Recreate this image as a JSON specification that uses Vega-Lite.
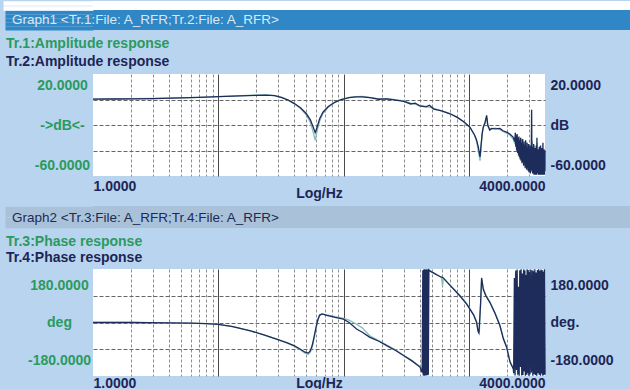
{
"$schema": "https://vega.github.io/schema/vega-lite/v6.json",
"background": "#b8d4ee",
"padding": 0,
"spacing": 6,
"config": {"view": {"stroke": null}, "font": "Liberation Sans"},
"datasets": {
"amp": [
{"t":"Tr.1","f":1,"v":0.5},{"t":"Tr.1","f":1.5,"v":0.5},{"t":"Tr.1","f":2,"v":0.6},{"t":"Tr.1","f":3,"v":0.8},{"t":"Tr.1","f":5,"v":1.2},{"t":"Tr.1","f":7,"v":1.7},{"t":"Tr.1","f":10,"v":2.3},{"t":"Tr.1","f":15,"v":3.0},{"t":"Tr.1","f":20,"v":3.4},{"t":"Tr.1","f":24,"v":3.6},{"t":"Tr.1","f":28,"v":3.1},{"t":"Tr.1","f":32,"v":1.6},{"t":"Tr.1","f":36,"v":-0.6},{"t":"Tr.1","f":40,"v":-3.2},{"t":"Tr.1","f":45,"v":-7},{"t":"Tr.1","f":50,"v":-12},{"t":"Tr.1","f":54,"v":-18},{"t":"Tr.1","f":57,"v":-26},{"t":"Tr.1","f":59,"v":-32},{"t":"Tr.1","f":61,"v":-25},{"t":"Tr.1","f":64,"v":-17},{"t":"Tr.1","f":68,"v":-11},{"t":"Tr.1","f":75,"v":-6},{"t":"Tr.1","f":85,"v":-2.2},{"t":"Tr.1","f":95,"v":0},{"t":"Tr.1","f":110,"v":1.6},{"t":"Tr.1","f":125,"v":2.3},{"t":"Tr.1","f":140,"v":2.4},{"t":"Tr.1","f":160,"v":1.6},{"t":"Tr.1","f":190,"v":0.5},{"t":"Tr.1","f":220,"v":0.7},{"t":"Tr.1","f":250,"v":0.1},{"t":"Tr.1","f":300,"v":-1.0},{"t":"Tr.1","f":340,"v":-2.8},{"t":"Tr.1","f":370,"v":-3.8},{"t":"Tr.1","f":400,"v":-4.6},{"t":"Tr.1","f":450,"v":-5.5},{"t":"Tr.1","f":480,"v":-6},{"t":"Tr.1","f":520,"v":-7},{"t":"Tr.1","f":600,"v":-9},{"t":"Tr.1","f":700,"v":-11},{"t":"Tr.1","f":800,"v":-14},{"t":"Tr.1","f":900,"v":-17.5},{"t":"Tr.1","f":1010,"v":-22},{"t":"Tr.1","f":1100,"v":-28},{"t":"Tr.1","f":1141,"v":-33},{"t":"Tr.1","f":1180,"v":-41},{"t":"Tr.1","f":1214,"v":-48},{"t":"Tr.1","f":1240,"v":-36},{"t":"Tr.1","f":1265,"v":-27},{"t":"Tr.1","f":1289,"v":-22},{"t":"Tr.1","f":1330,"v":-19},{"t":"Tr.1","f":1371,"v":-14},{"t":"Tr.1","f":1400,"v":-21},{"t":"Tr.1","f":1450,"v":-23},{"t":"Tr.1","f":1503,"v":-23},{"t":"Tr.1","f":1600,"v":-22.5},{"t":"Tr.1","f":1749,"v":-23.5},{"t":"Tr.1","f":1850,"v":-25},{"t":"Tr.1","f":1976,"v":-26.5},{"t":"Tr.1","f":2100,"v":-28},{"t":"Tr.1","f":2228,"v":-31},
{"t":"Tr.1","f":2300,"v":-35},{"t":"Tr.1","f":2340,"v":-27},{"t":"Tr.1","f":2370,"v":-40},{"t":"Tr.1","f":2410,"v":-29},{"t":"Tr.1","f":2440,"v":-42},{"t":"Tr.1","f":2475,"v":-33},{"t":"Tr.1","f":2510,"v":-46},{"t":"Tr.1","f":2545,"v":-30},{"t":"Tr.1","f":2580,"v":-45},{"t":"Tr.1","f":2615,"v":-34},{"t":"Tr.1","f":2650,"v":-49},{"t":"Tr.1","f":2685,"v":-31},{"t":"Tr.1","f":2720,"v":-50},{"t":"Tr.1","f":2755,"v":-36},{"t":"Tr.1","f":2790,"v":-52},{"t":"Tr.1","f":2825,"v":-33},{"t":"Tr.1","f":2860,"v":-53},{"t":"Tr.1","f":2895,"v":-38},{"t":"Tr.1","f":2930,"v":-55},{"t":"Tr.1","f":2965,"v":-35},{"t":"Tr.1","f":3000,"v":-56},{"t":"Tr.1","f":3035,"v":-40},{"t":"Tr.1","f":3070,"v":-54},{"t":"Tr.1","f":3105,"v":-37},{"t":"Tr.1","f":3140,"v":-57},{"t":"Tr.1","f":3175,"v":-33},{"t":"Tr.1","f":3210,"v":-55},{"t":"Tr.1","f":3245,"v":-39},{"t":"Tr.1","f":3280,"v":-58},{"t":"Tr.1","f":3315,"v":-36},{"t":"Tr.1","f":3350,"v":-56},{"t":"Tr.1","f":3385,"v":-41},{"t":"Tr.1","f":3420,"v":-58},{"t":"Tr.1","f":3455,"v":-34},{"t":"Tr.1","f":3490,"v":-55},{"t":"Tr.1","f":3525,"v":-42},{"t":"Tr.1","f":3560,"v":-59},{"t":"Tr.1","f":3595,"v":-37},{"t":"Tr.1","f":3630,"v":-57},{"t":"Tr.1","f":3665,"v":-43},{"t":"Tr.1","f":3700,"v":-59},{"t":"Tr.1","f":3735,"v":-38},{"t":"Tr.1","f":3770,"v":-56},{"t":"Tr.1","f":3805,"v":-44},{"t":"Tr.1","f":3840,"v":-59},{"t":"Tr.1","f":3875,"v":-40},{"t":"Tr.1","f":3910,"v":-58},{"t":"Tr.1","f":3945,"v":-45},{"t":"Tr.1","f":3980,"v":-57},{"t":"Tr.1","f":4000,"v":-49},
{"t":"Tr.2","f":1,"v":0.3},{"t":"Tr.2","f":1.5,"v":0.4},{"t":"Tr.2","f":2,"v":0.5},{"t":"Tr.2","f":3,"v":0.7},{"t":"Tr.2","f":5,"v":1.2},{"t":"Tr.2","f":7,"v":1.6},{"t":"Tr.2","f":10,"v":2.2},{"t":"Tr.2","f":15,"v":2.9},{"t":"Tr.2","f":20,"v":3.3},{"t":"Tr.2","f":24,"v":3.5},{"t":"Tr.2","f":28,"v":3.0},{"t":"Tr.2","f":32,"v":1.5},{"t":"Tr.2","f":36,"v":-0.5},{"t":"Tr.2","f":40,"v":-3},{"t":"Tr.2","f":45,"v":-6.5},{"t":"Tr.2","f":50,"v":-11},{"t":"Tr.2","f":54,"v":-16},{"t":"Tr.2","f":57,"v":-22},{"t":"Tr.2","f":59,"v":-26},{"t":"Tr.2","f":61,"v":-22},{"t":"Tr.2","f":64,"v":-15},{"t":"Tr.2","f":68,"v":-10},{"t":"Tr.2","f":75,"v":-5.5},{"t":"Tr.2","f":85,"v":-2},{"t":"Tr.2","f":95,"v":0},{"t":"Tr.2","f":110,"v":1.4},{"t":"Tr.2","f":125,"v":2},{"t":"Tr.2","f":140,"v":2.1},{"t":"Tr.2","f":160,"v":1.4},{"t":"Tr.2","f":190,"v":0.2},{"t":"Tr.2","f":220,"v":0.5},{"t":"Tr.2","f":250,"v":-0.3},{"t":"Tr.2","f":300,"v":-1.5},{"t":"Tr.2","f":340,"v":-3.5},{"t":"Tr.2","f":370,"v":-2.8},{"t":"Tr.2","f":400,"v":-5},{"t":"Tr.2","f":450,"v":-5.8},{"t":"Tr.2","f":480,"v":-4.5},{"t":"Tr.2","f":520,"v":-7.5},{"t":"Tr.2","f":600,"v":-9},{"t":"Tr.2","f":700,"v":-11.2},{"t":"Tr.2","f":800,"v":-14},{"t":"Tr.2","f":900,"v":-17.5},{"t":"Tr.2","f":1010,"v":-21.7},{"t":"Tr.2","f":1100,"v":-28},{"t":"Tr.2","f":1141,"v":-32},{"t":"Tr.2","f":1180,"v":-38},{"t":"Tr.2","f":1214,"v":-45},{"t":"Tr.2","f":1240,"v":-35},{"t":"Tr.2","f":1265,"v":-26},{"t":"Tr.2","f":1289,"v":-21.7},{"t":"Tr.2","f":1330,"v":-18},{"t":"Tr.2","f":1371,"v":-12.5},{"t":"Tr.2","f":1400,"v":-20},{"t":"Tr.2","f":1450,"v":-24},{"t":"Tr.2","f":1503,"v":-22.7},{"t":"Tr.2","f":1600,"v":-23},{"t":"Tr.2","f":1749,"v":-22.7},{"t":"Tr.2","f":1850,"v":-24.5},{"t":"Tr.2","f":1976,"v":-25.6},{"t":"Tr.2","f":2100,"v":-27},{"t":"Tr.2","f":2228,"v":-29.5},
{"t":"Tr.2","f":2300,"v":-33},{"t":"Tr.2","f":2320,"v":-26},{"t":"Tr.2","f":2340,"v":-37},{"t":"Tr.2","f":2360,"v":-28},{"t":"Tr.2","f":2380,"v":-40},{"t":"Tr.2","f":2400,"v":-27},{"t":"Tr.2","f":2420,"v":-42},{"t":"Tr.2","f":2440,"v":-30},{"t":"Tr.2","f":2460,"v":-44},{"t":"Tr.2","f":2480,"v":-29},{"t":"Tr.2","f":2500,"v":-45},{"t":"Tr.2","f":2520,"v":-32},{"t":"Tr.2","f":2540,"v":-47},{"t":"Tr.2","f":2560,"v":-30},{"t":"Tr.2","f":2580,"v":-48},{"t":"Tr.2","f":2600,"v":-34},{"t":"Tr.2","f":2620,"v":-50},{"t":"Tr.2","f":2640,"v":-31},{"t":"Tr.2","f":2660,"v":-49},{"t":"Tr.2","f":2680,"v":-35},{"t":"Tr.2","f":2700,"v":-52},{"t":"Tr.2","f":2720,"v":-33},{"t":"Tr.2","f":2740,"v":-51},{"t":"Tr.2","f":2760,"v":-36},{"t":"Tr.2","f":2780,"v":-54},{"t":"Tr.2","f":2800,"v":-32},{"t":"Tr.2","f":2820,"v":-53},{"t":"Tr.2","f":2840,"v":-37},{"t":"Tr.2","f":2860,"v":-55},{"t":"Tr.2","f":2880,"v":-34},{"t":"Tr.2","f":2900,"v":-54},{"t":"Tr.2","f":2920,"v":-38},{"t":"Tr.2","f":2940,"v":-56},{"t":"Tr.2","f":2960,"v":-35},{"t":"Tr.2","f":2980,"v":-57},{"t":"Tr.2","f":3000,"v":-39},{"t":"Tr.2","f":3020,"v":-55},{"t":"Tr.2","f":3040,"v":-36},{"t":"Tr.2","f":3060,"v":-58},{"t":"Tr.2","f":3080,"v":-40},{"t":"Tr.2","f":3100,"v":-56},{"t":"Tr.2","f":3130,"v":-8},{"t":"Tr.2","f":3150,"v":-55},{"t":"Tr.2","f":3170,"v":-37},{"t":"Tr.2","f":3190,"v":-58},{"t":"Tr.2","f":3210,"v":-41},{"t":"Tr.2","f":3230,"v":-57},{"t":"Tr.2","f":3250,"v":-35},{"t":"Tr.2","f":3270,"v":-59},{"t":"Tr.2","f":3290,"v":-42},{"t":"Tr.2","f":3310,"v":-56},{"t":"Tr.2","f":3330,"v":-38},{"t":"Tr.2","f":3350,"v":-59},{"t":"Tr.2","f":3370,"v":-43},{"t":"Tr.2","f":3390,"v":-57},{"t":"Tr.2","f":3410,"v":-36},{"t":"Tr.2","f":3430,"v":-59},{"t":"Tr.2","f":3450,"v":-30},{"t":"Tr.2","f":3470,"v":-58},{"t":"Tr.2","f":3490,"v":-44},{"t":"Tr.2","f":3510,"v":-56},{"t":"Tr.2","f":3530,"v":-39},{"t":"Tr.2","f":3550,"v":-59},{"t":"Tr.2","f":3570,"v":-41},{"t":"Tr.2","f":3590,"v":-57},{"t":"Tr.2","f":3610,"v":-37},{"t":"Tr.2","f":3630,"v":-59},{"t":"Tr.2","f":3650,"v":-45},{"t":"Tr.2","f":3670,"v":-58},{"t":"Tr.2","f":3690,"v":-36},{"t":"Tr.2","f":3710,"v":-59},{"t":"Tr.2","f":3730,"v":-42},{"t":"Tr.2","f":3750,"v":-57},{"t":"Tr.2","f":3770,"v":-38},{"t":"Tr.2","f":3790,"v":-59},{"t":"Tr.2","f":3810,"v":-46},{"t":"Tr.2","f":3830,"v":-58},{"t":"Tr.2","f":3850,"v":-34},{"t":"Tr.2","f":3870,"v":-59},{"t":"Tr.2","f":3890,"v":-43},{"t":"Tr.2","f":3910,"v":-57},{"t":"Tr.2","f":3930,"v":-39},{"t":"Tr.2","f":3950,"v":-59},{"t":"Tr.2","f":3970,"v":-44},{"t":"Tr.2","f":3990,"v":-56},{"t":"Tr.2","f":4000,"v":-40}
],
"phase": [
{"t":"Tr.3","f":1,"v":0},{"t":"Tr.3","f":2,"v":0},{"t":"Tr.3","f":4,"v":-1},{"t":"Tr.3","f":6,"v":-2},{"t":"Tr.3","f":8,"v":-4},{"t":"Tr.3","f":10,"v":-6},{"t":"Tr.3","f":13,"v":-14},{"t":"Tr.3","f":18,"v":-28},{"t":"Tr.3","f":23,"v":-42},{"t":"Tr.3","f":29,"v":-56},{"t":"Tr.3","f":35,"v":-69},{"t":"Tr.3","f":40,"v":-80},{"t":"Tr.3","f":45,"v":-92},{"t":"Tr.3","f":49,"v":-103},{"t":"Tr.3","f":52,"v":-107},{"t":"Tr.3","f":54,"v":-100},{"t":"Tr.3","f":56,"v":-82},{"t":"Tr.3","f":58,"v":-50},{"t":"Tr.3","f":60,"v":-18},{"t":"Tr.3","f":62,"v":8},{"t":"Tr.3","f":64,"v":24},{"t":"Tr.3","f":67,"v":28},{"t":"Tr.3","f":73,"v":26},{"t":"Tr.3","f":85,"v":20},{"t":"Tr.3","f":99,"v":14},{"t":"Tr.3","f":110,"v":8},{"t":"Tr.3","f":126,"v":-6},{"t":"Tr.3","f":140,"v":-18},{"t":"Tr.3","f":161,"v":-45},{"t":"Tr.3","f":190,"v":-62},{"t":"Tr.3","f":219,"v":-76},{"t":"Tr.3","f":260,"v":-93},{"t":"Tr.3","f":298,"v":-110},{"t":"Tr.3","f":350,"v":-128},{"t":"Tr.3","f":403,"v":-148},{"t":"Tr.3","f":440,"v":-163},{"t":"Tr.3","f":465,"v":-176},{"t":"Tr.3","f":472,"v":178},{"t":"Tr.3","f":490,"v":174},{"t":"Tr.3","f":515,"v":168},{"t":"Tr.3","f":560,"v":160},{"t":"Tr.3","f":600,"v":150},{"t":"Tr.3","f":610,"v":123},{"t":"Tr.3","f":620,"v":148},{"t":"Tr.3","f":700,"v":126},{"t":"Tr.3","f":841,"v":91},{"t":"Tr.3","f":950,"v":64},{"t":"Tr.3","f":1011,"v":46},{"t":"Tr.3","f":1080,"v":27},{"t":"Tr.3","f":1141,"v":3},{"t":"Tr.3","f":1170,"v":-25},{"t":"Tr.3","f":1200,"v":-30},{"t":"Tr.3","f":1225,"v":55},{"t":"Tr.3","f":1250,"v":145},{"t":"Tr.3","f":1290,"v":115},{"t":"Tr.3","f":1350,"v":92},{"t":"Tr.3","f":1456,"v":70},{"t":"Tr.3","f":1600,"v":33},{"t":"Tr.3","f":1750,"v":-8},{"t":"Tr.3","f":1862,"v":-52},{"t":"Tr.3","f":1977,"v":-80},{"t":"Tr.3","f":2104,"v":-130},{"t":"Tr.3","f":2238,"v":-154},
{"t":"Tr.3","f":2260,"v":-175},{"t":"Tr.3","f":2330,"v":170},{"t":"Tr.3","f":2420,"v":-178},{"t":"Tr.3","f":2520,"v":175},{"t":"Tr.3","f":2640,"v":-170},{"t":"Tr.3","f":2760,"v":178},{"t":"Tr.3","f":2900,"v":-176},{"t":"Tr.3","f":3050,"v":174},{"t":"Tr.3","f":3150,"v":-120},{"t":"Tr.3","f":3250,"v":178},{"t":"Tr.3","f":3400,"v":-178},{"t":"Tr.3","f":3550,"v":176},{"t":"Tr.3","f":3700,"v":-177},{"t":"Tr.3","f":3850,"v":175},{"t":"Tr.3","f":4000,"v":-176},
{"t":"Tr.4","f":1,"v":0},{"t":"Tr.4","f":2,"v":0},{"t":"Tr.4","f":4,"v":-1},{"t":"Tr.4","f":6,"v":-2},{"t":"Tr.4","f":8,"v":-4},{"t":"Tr.4","f":10,"v":-6},{"t":"Tr.4","f":13,"v":-14},{"t":"Tr.4","f":18,"v":-28},{"t":"Tr.4","f":23,"v":-42},{"t":"Tr.4","f":29,"v":-56},{"t":"Tr.4","f":35,"v":-68},{"t":"Tr.4","f":40,"v":-78},{"t":"Tr.4","f":45,"v":-90},{"t":"Tr.4","f":49,"v":-100},{"t":"Tr.4","f":52,"v":-103},{"t":"Tr.4","f":54,"v":-95},{"t":"Tr.4","f":56,"v":-75},{"t":"Tr.4","f":58,"v":-45},{"t":"Tr.4","f":60,"v":-15},{"t":"Tr.4","f":62,"v":10},{"t":"Tr.4","f":64,"v":25},{"t":"Tr.4","f":67,"v":29},{"t":"Tr.4","f":73,"v":24},{"t":"Tr.4","f":85,"v":17},{"t":"Tr.4","f":99,"v":11},{"t":"Tr.4","f":110,"v":0},{"t":"Tr.4","f":126,"v":-22},{"t":"Tr.4","f":140,"v":-33},{"t":"Tr.4","f":161,"v":-50},{"t":"Tr.4","f":190,"v":-63},{"t":"Tr.4","f":219,"v":-78},{"t":"Tr.4","f":260,"v":-95},{"t":"Tr.4","f":298,"v":-111},{"t":"Tr.4","f":350,"v":-130},{"t":"Tr.4","f":403,"v":-150},{"t":"Tr.4","f":420,"v":-168},{"t":"Tr.4","f":425,"v":176},{"t":"Tr.4","f":428,"v":-178},{"t":"Tr.4","f":432,"v":178},{"t":"Tr.4","f":436,"v":-179},{"t":"Tr.4","f":440,"v":179},{"t":"Tr.4","f":444,"v":-178},{"t":"Tr.4","f":448,"v":178},{"t":"Tr.4","f":452,"v":-178},{"t":"Tr.4","f":456,"v":179},{"t":"Tr.4","f":460,"v":-177},{"t":"Tr.4","f":465,"v":178},{"t":"Tr.4","f":470,"v":-176},{"t":"Tr.4","f":475,"v":177},{"t":"Tr.4","f":490,"v":172},{"t":"Tr.4","f":515,"v":167},{"t":"Tr.4","f":560,"v":158},{"t":"Tr.4","f":620,"v":150},{"t":"Tr.4","f":700,"v":125},{"t":"Tr.4","f":841,"v":89},{"t":"Tr.4","f":950,"v":62},{"t":"Tr.4","f":1011,"v":44},{"t":"Tr.4","f":1080,"v":25},{"t":"Tr.4","f":1141,"v":0},{"t":"Tr.4","f":1170,"v":-30},{"t":"Tr.4","f":1190,"v":-36},{"t":"Tr.4","f":1225,"v":60},{"t":"Tr.4","f":1250,"v":150},{"t":"Tr.4","f":1290,"v":111},{"t":"Tr.4","f":1350,"v":90},{"t":"Tr.4","f":1456,"v":67},{"t":"Tr.4","f":1600,"v":30},{"t":"Tr.4","f":1750,"v":-11},{"t":"Tr.4","f":1862,"v":-55},{"t":"Tr.4","f":1977,"v":-83},{"t":"Tr.4","f":2104,"v":-133},{"t":"Tr.4","f":2238,"v":-156},
{"t":"Tr.4","f":2250,"v":-170},{"t":"Tr.4","f":2280,"v":150},{"t":"Tr.4","f":2310,"v":-178},{"t":"Tr.4","f":2340,"v":175},{"t":"Tr.4","f":2370,"v":-160},{"t":"Tr.4","f":2400,"v":178},{"t":"Tr.4","f":2430,"v":-175},{"t":"Tr.4","f":2460,"v":120},{"t":"Tr.4","f":2490,"v":-179},{"t":"Tr.4","f":2520,"v":176},{"t":"Tr.4","f":2550,"v":-150},{"t":"Tr.4","f":2580,"v":179},{"t":"Tr.4","f":2610,"v":-178},{"t":"Tr.4","f":2640,"v":165},{"t":"Tr.4","f":2670,"v":-177},{"t":"Tr.4","f":2700,"v":178},{"t":"Tr.4","f":2730,"v":-165},{"t":"Tr.4","f":2760,"v":175},{"t":"Tr.4","f":2790,"v":-179},{"t":"Tr.4","f":2820,"v":160},{"t":"Tr.4","f":2850,"v":-176},{"t":"Tr.4","f":2880,"v":179},{"t":"Tr.4","f":2910,"v":-170},{"t":"Tr.4","f":2940,"v":177},{"t":"Tr.4","f":2970,"v":-179},{"t":"Tr.4","f":3000,"v":170},{"t":"Tr.4","f":3040,"v":-175},{"t":"Tr.4","f":3080,"v":178},{"t":"Tr.4","f":3120,"v":-168},{"t":"Tr.4","f":3160,"v":176},{"t":"Tr.4","f":3200,"v":-179},{"t":"Tr.4","f":3240,"v":172},{"t":"Tr.4","f":3280,"v":-174},{"t":"Tr.4","f":3320,"v":179},{"t":"Tr.4","f":3360,"v":-177},{"t":"Tr.4","f":3400,"v":168},{"t":"Tr.4","f":3440,"v":-179},{"t":"Tr.4","f":3480,"v":177},{"t":"Tr.4","f":3520,"v":-171},{"t":"Tr.4","f":3560,"v":179},{"t":"Tr.4","f":3600,"v":-176},{"t":"Tr.4","f":3640,"v":174},{"t":"Tr.4","f":3680,"v":-179},{"t":"Tr.4","f":3720,"v":178},{"t":"Tr.4","f":3760,"v":-172},{"t":"Tr.4","f":3800,"v":176},{"t":"Tr.4","f":3840,"v":-179},{"t":"Tr.4","f":3880,"v":171},{"t":"Tr.4","f":3920,"v":-177},{"t":"Tr.4","f":3960,"v":179},{"t":"Tr.4","f":4000,"v":-175}
]
},
"vconcat": [
{
"width": 537, "height": 29,
"view": {"stroke": null, "fill": {"gradient": "linear", "x1": 0, "y1": 0, "x2": 0, "y2": 1, "stops": [{"offset": 0, "color": "#ffffff"}, {"offset": 0.31, "color": "#ffffff"}, {"offset": 0.31, "color": "#2f87c5"}, {"offset": 1, "color": "#2f87c5"}]}},
"title": {"text": "Graph1 <Tr.1:File: A_RFR;Tr.2:File: A_RFR>", "anchor": "start", "frame": "group", "orient": "top", "offset": -26, "dx": -81, "fontSize": 13.5, "fontWeight": "normal", "color": "#dbe8f4"},
"data": {"values": [{}]},
"mark": {"type": "point", "opacity": 0},
"encoding": {"y": {"datum": 10, "type": "quantitative", "scale": {"domain": [0, 29], "nice": false, "zero": false},
  "axis": {"orient": "left", "values": [2, 6, 10, 14, 18, 22.25, 26.75], "title": null, "labels": false, "domain": false, "grid": false,
   "tickSize": {"condition": {"test": "datum.value > 20", "value": 90}, "value": 88},
   "tickColor": {"condition": {"test": "datum.value > 20", "value": "#ffffff"}, "value": "#2f87c5"},
   "tickWidth": {"condition": {"test": "datum.value > 20", "value": 4.6}, "value": 4.1}}}}
},
{
"width": 452, "height": 102,
"view": {"fill": "#ffffff", "stroke": null},
"title": {"text": "Tr.1:Amplitude response", "subtitle": "Tr.2:Amplitude response", "anchor": "start", "frame": "bounds", "dx": 6, "fontSize": 14, "fontWeight": "bold", "color": "#2a9a5e", "subtitleFontSize": 14, "subtitleFontWeight": "bold", "subtitleColor": "#1d2557", "subtitlePadding": 4, "offset": 5},
"data": {"name": "amp"},
"encoding": {"x": {"field": "f", "type": "quantitative", "scale": {"type": "log", "domain": [1, 4000], "nice": false},
  "axis": {"values": [1,2,3,4,5,6,7,8,9,10,20,30,40,50,60,70,80,90,100,200,300,400,500,600,700,800,900,1000,2000,3000,4000],
    "title": "Log/Hz", "titleFontSize": 14, "titleFontWeight": "bold", "titleColor": "#1d2557", "titlePadding": -14,
    "labelExpr": "datum.value == 1 ? '1.0000' : datum.value == 4000 ? '4000.0000' : ''",
    "labelFlush": true, "labelOverlap": false, "labelFontSize": 14, "labelFontWeight": "bold", "labelColor": "#1d2557", "labelPadding": 3,
    "ticks": false, "domain": false, "grid": true, "minExtent": 24,
    "gridColor": {"condition": {"test": "datum.value == 10 || datum.value == 100 || datum.value == 1000", "value": "#4a4a4a"}, "value": "#8c8c8c"},
    "gridDash": {"condition": {"test": "datum.value == 10 || datum.value == 100 || datum.value == 1000", "value": []}, "value": [3, 2]},
    "gridOpacity": {"condition": {"test": "datum.value == 1 || datum.value == 4000", "value": 0}, "value": 1}}}},
"layer": [
{"transform": [{"filter": "datum.t == 'Tr.1'"}], "mark": {"type": "line", "color": "#86bdb9", "strokeWidth": 1.3},
 "encoding": {"y": {"field": "v", "type": "quantitative", "scale": {"domain": [-60, 20], "nice": false, "zero": false},
  "axis": {"orient": "left", "title": null, "values": [20, 0, -20, -40, -60],
   "labelExpr": "datum.value == 20 ? '20.0000' : datum.value == -20 ? '->dB<-' : datum.value == -60 ? '-60.0000' : ''",
   "labelFlush": true, "labelFlushOffset": -4, "labelOverlap": false, "labelAlign": "center", "labelPadding": 31,
   "labelFontSize": 14, "labelFontWeight": "bold", "labelColor": "#2a9a5e",
   "ticks": false, "domain": false, "grid": true, "gridColor": "#666666", "gridDash": [4, 2], "minExtent": 93,
   "gridOpacity": {"condition": {"test": "datum.value == 20 || datum.value == -60", "value": 0}, "value": 1}}}}},
{"transform": [{"filter": "datum.t == 'Tr.2'"}], "mark": {"type": "line", "color": "#1e2c5c", "strokeWidth": 1.3},
 "encoding": {"y": {"field": "v", "type": "quantitative", "scale": {"domain": [-60, 20], "nice": false, "zero": false},
  "axis": {"orient": "right", "title": null, "values": [20, -20, -60],
   "labelExpr": "datum.value == 20 ? '20.0000' : datum.value == -20 ? 'dB' : '-60.0000'",
   "labelFlush": true, "labelFlushOffset": -4, "labelOverlap": false, "labelPadding": 5,
   "labelFontSize": 14, "labelFontWeight": "bold", "labelColor": "#1d2557",
   "ticks": false, "domain": false, "grid": false}}}}
],
"resolve": {"axis": {"y": "independent"}}
},
{
"width": 537, "height": 22,
"view": {"stroke": null, "fill": "#a9c1d9"},
"title": {"text": "Graph2 <Tr.3:File: A_RFR;Tr.4:File: A_RFR>", "anchor": "start", "frame": "group", "orient": "top", "offset": -18, "dx": -81, "fontSize": 13.5, "fontWeight": "normal", "color": "#1d2a55"},
"data": {"values": [{}]},
"mark": {"type": "point", "opacity": 0},
"encoding": {"y": {"datum": 11, "type": "quantitative", "scale": {"domain": [0, 22], "nice": false, "zero": false},
  "axis": {"orient": "left", "values": [2.75, 8.25, 13.75, 19.25], "title": null, "labels": false, "domain": false, "grid": false, "tickSize": 88, "tickColor": "#a9c1d9", "tickWidth": 5.6}}}
},
{
"width": 452, "height": 107,
"view": {"fill": "#ffffff", "stroke": null},
"title": {"text": "Tr.3:Phase response", "subtitle": "Tr.4:Phase response", "anchor": "start", "frame": "bounds", "dx": 6, "fontSize": 14, "fontWeight": "bold", "color": "#2a9a5e", "subtitleFontSize": 14, "subtitleFontWeight": "bold", "subtitleColor": "#1d2557", "subtitlePadding": 2, "offset": 2},
"data": {"name": "phase"},
"encoding": {"x": {"field": "f", "type": "quantitative", "scale": {"type": "log", "domain": [1, 4000], "nice": false},
  "axis": {"values": [1,2,3,4,5,6,7,8,9,10,20,30,40,50,60,70,80,90,100,200,300,400,500,600,700,800,900,1000,2000,3000,4000],
    "title": "Log/Hz", "titleFontSize": 14, "titleFontWeight": "bold", "titleColor": "#1d2557", "titlePadding": -14,
    "labelExpr": "datum.value == 1 ? '1.0000' : datum.value == 4000 ? '4000.0000' : ''",
    "labelFlush": true, "labelOverlap": false, "labelFontSize": 14, "labelFontWeight": "bold", "labelColor": "#1d2557", "labelPadding": 0,
    "ticks": false, "domain": false, "grid": true,
    "gridColor": {"condition": {"test": "datum.value == 10 || datum.value == 100 || datum.value == 1000", "value": "#4a4a4a"}, "value": "#8c8c8c"},
    "gridDash": {"condition": {"test": "datum.value == 10 || datum.value == 100 || datum.value == 1000", "value": []}, "value": [3, 2]},
    "gridOpacity": {"condition": {"test": "datum.value == 1 || datum.value == 4000", "value": 0}, "value": 1}}}},
"layer": [
{"transform": [{"filter": "datum.t == 'Tr.3'"}], "mark": {"type": "line", "color": "#86bdb9", "strokeWidth": 1.3},
 "encoding": {"y": {"field": "v", "type": "quantitative", "scale": {"domain": [-180, 180], "nice": false, "zero": false},
  "axis": {"orient": "left", "title": null, "values": [180, 90, 0, -90, -180],
   "labelExpr": "datum.value == 180 ? '180.0000' : datum.value == 0 ? 'deg' : datum.value == -180 ? '-180.0000' : ''",
   "labelFlush": true, "labelFlushOffset": -9, "labelOverlap": false, "labelAlign": "center", "labelPadding": 34,
   "labelFontSize": 14, "labelFontWeight": "bold", "labelColor": "#2a9a5e",
   "ticks": false, "domain": false, "grid": true, "gridColor": "#666666", "gridDash": [4, 2], "minExtent": 93,
   "gridOpacity": {"condition": {"test": "datum.value == 180 || datum.value == -180", "value": 0}, "value": 1}}}}},
{"transform": [{"filter": "datum.t == 'Tr.4'"}], "mark": {"type": "line", "color": "#1e2c5c", "strokeWidth": 1.3},
 "encoding": {"y": {"field": "v", "type": "quantitative", "scale": {"domain": [-180, 180], "nice": false, "zero": false},
  "axis": {"orient": "right", "title": null, "values": [180, 0, -180],
   "labelExpr": "datum.value == 180 ? '180.0000' : datum.value == 0 ? 'deg.' : '-180.0000'",
   "labelFlush": true, "labelFlushOffset": -9, "labelOverlap": false, "labelPadding": 5,
   "labelFontSize": 14, "labelFontWeight": "bold", "labelColor": "#1d2557",
   "ticks": false, "domain": false, "grid": false}}}}
],
"resolve": {"axis": {"y": "independent"}}
}
]
}
